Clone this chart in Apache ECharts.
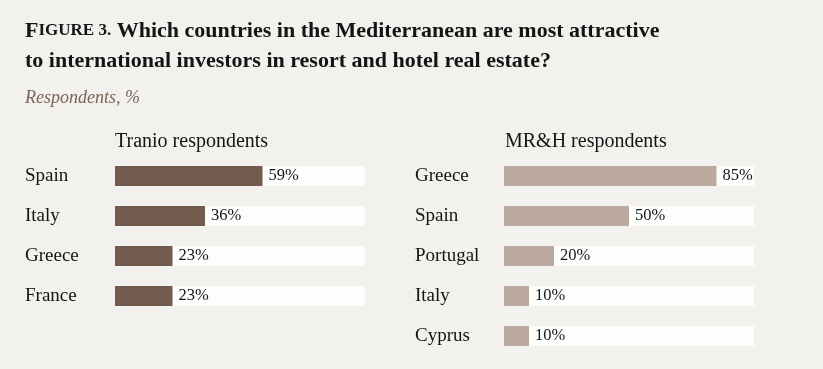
<!DOCTYPE html>
<html><head><meta charset="utf-8">
<script src="https://cdn.jsdelivr.net/npm/echarts@6/dist/echarts.min.js"></script>
<style>html,body{margin:0;padding:0;background:#f3f1ed;}#c{width:823px;height:369px;}</style>
</head><body><div id="c"></div>
<script>
const leftTitle = 'Tranio respondents';
const leftCats = ['Spain', 'Italy', 'Greece', 'France'];
const leftVals = [59, 36, 23, 23];
const rightTitle = 'MR&H respondents';
const rightCats = ['Greece', 'Spain', 'Portugal', 'Italy', 'Cyprus'];
const rightVals = [85, 50, 20, 10, 10];

const FONT = '"Liberation Serif", "DejaVu Serif", serif';
const INK = '#141414';
const chart = echarts.init(document.getElementById('c'));
function yAxis(gi, cats, margin) {
  return {
    type: 'category', gridIndex: gi, data: cats, inverse: true,
    axisLine: {show: false}, axisTick: {show: false}, splitLine: {show: false},
    axisLabel: {align: 'left', margin: margin, color: INK, fontFamily: FONT, fontSize: 19}
  };
}
function xAxis(gi) {
  return {type: 'value', gridIndex: gi, min: 0, max: 100, show: false};
}
function series(gi, vals, color) {
  return {
    type: 'bar', xAxisIndex: gi, yAxisIndex: gi, data: vals, barWidth: 20,
    itemStyle: {color: color},
    showBackground: true, backgroundStyle: {color: '#fdfdfc'},
    label: {show: true, position: 'right', distance: 6, formatter: '{c}%', color: INK, fontFamily: FONT, fontSize: 16.5},
    silent: true
  };
}
chart.setOption({
  backgroundColor: '#f3f1ed',
  animation: false,
  title: [
    {left: 25, top: 16, padding: 0, text: '{a|F}{b|IGURE 3.} Which countries in the Mediterranean are most attractive\nto international investors in resort and hotel real estate?',
     textStyle: {fontFamily: FONT, fontSize: 22, fontWeight: 'bold', color: INK, lineHeight: 30,
       rich: {a: {fontFamily: FONT, fontSize: 22, fontWeight: 'bold', color: INK, lineHeight: 30},
              b: {fontFamily: FONT, fontSize: 17, fontWeight: 'bold', color: INK, lineHeight: 30}}}},
    {left: 25, top: 89, padding: 0, text: 'Respondents, %', textStyle: {fontFamily: FONT, fontSize: 18, fontStyle: 'italic', fontWeight: 'normal', color: '#7a6558'}},
    {left: 115, top: 132, padding: 0, text: leftTitle, textStyle: {fontFamily: FONT, fontSize: 20, fontWeight: 'normal', color: INK}},
    {left: 505, top: 132, padding: 0, text: rightTitle, textStyle: {fontFamily: FONT, fontSize: 20, fontWeight: 'normal', color: INK}}
  ],
  grid: [
    {left: 115, top: 156, width: 250, height: 160},
    {left: 504, top: 156, width: 250, height: 200}
  ],
  xAxis: [xAxis(0), xAxis(1)],
  yAxis: [yAxis(0, leftCats, 90), yAxis(1, rightCats, 89)],
  series: [series(0, leftVals, '#735b4e'), series(1, rightVals, '#baa99c')]
});
</script></body></html>
